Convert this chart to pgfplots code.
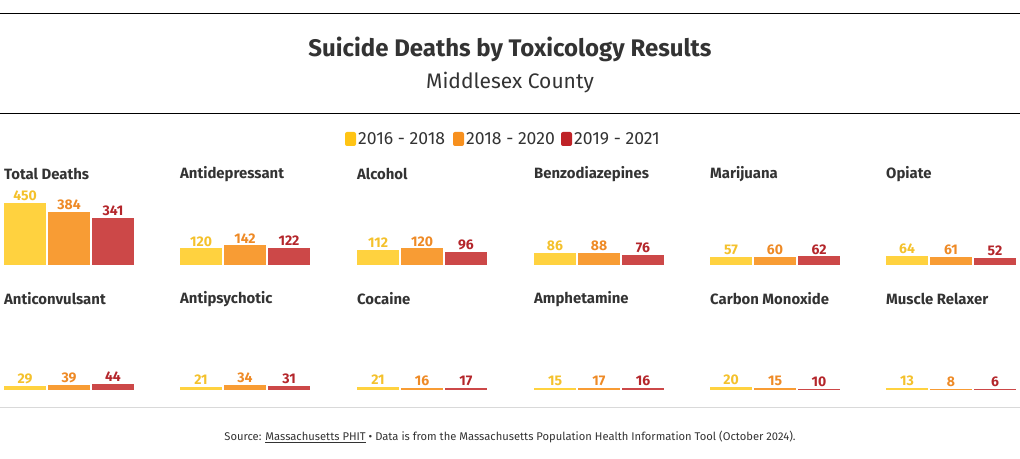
\documentclass[border=0pt]{standalone}
\usepackage{fontspec}
\setmainfont{Fira Sans}
\usepackage{pgfplots}
\pgfplotsset{compat=1.18}
\definecolor{cy}{HTML}{FFD23F}
\definecolor{co}{HTML}{F89C34}
\definecolor{cr}{HTML}{CC4848}
\definecolor{ty}{HTML}{F4C12C}
\definecolor{to}{HTML}{EE8A26}
\definecolor{tr}{HTML}{B4262B}
\definecolor{ly}{HTML}{FFC414}
\definecolor{lo}{HTML}{F7901E}
\definecolor{lr}{HTML}{BF2227}
\definecolor{tx}{HTML}{333333}
\pgfplotsset{
  panel/.style={anchor=origin, scale only axis, width=132pt, height=62pt,
    xmin=-0.5, xmax=2.5, ymin=0, ymax=450, hide axis, clip=false,
    /pgf/number format/assume math mode=true,
    every node near coord/.append style={font=\fontsize{14}{15}\selectfont\bfseries, inner sep=2pt}},
  bstyle/.style={ybar, bar width=42pt, bar shift=0pt, draw=none, fill=#1, nodes near coords}
}
\newcommand{\panel}[6]{%
\begin{axis}[panel, at={(#1pt+21pt,#2pt)}]
\addplot[bstyle=cy, every node near coord/.append style={text=ty}] coordinates {(0,#4)};
\addplot[bstyle=co, every node near coord/.append style={text=to}] coordinates {(1,#5)};
\addplot[bstyle=cr, every node near coord/.append style={text=tr}] coordinates {(2,#6)};
\end{axis}
\node[anchor=west, inner sep=0pt, text=tx, font=\fontsize{14.9}{17}\selectfont\bfseries] at (#1pt,#2pt+91pt) {#3};
}
\begin{document}
\begin{tikzpicture}[x=1pt,y=1pt]
\path[use as bounding box] (0,0) rectangle (1020,458);
\draw[black, line width=1pt] (0,444) -- (1020,444);
\draw[black, line width=1pt] (0,344) -- (1020,344);
\draw[black!15, line width=0.8pt] (0,51) -- (1020,51);
\node[text=tx, font=\fontsize{24}{26}\selectfont\bfseries] at (510,409) {Suicide Deaths by Toxicology Results};
\node[text=tx, font=\fontsize{21}{24}\selectfont] at (510,375) {Middlesex County};
% legend
\fill[ly, rounded corners=2pt] (345,312) rectangle (356,326);
\node[anchor=west, inner sep=0pt, text=tx, font=\fontsize{17.6}{19}\selectfont] at (358,319) {2016 - 2018};
\fill[lo, rounded corners=2pt] (453,312) rectangle (464,326);
\node[anchor=west, inner sep=0pt, text=tx, font=\fontsize{17.6}{19}\selectfont] at (466,319) {2018 - 2020};
\fill[lr, rounded corners=2pt] (561,312) rectangle (572,326);
\node[anchor=west, inner sep=0pt, text=tx, font=\fontsize{17.6}{19}\selectfont] at (574,319) {2019 - 2021};
% panels row 1
\panel{4}{193}{Total Deaths}{450}{384}{341}
\panel{180}{193}{Antidepressant}{120}{142}{122}
\panel{357}{193}{Alcohol}{112}{120}{96}
\panel{534}{193}{Benzodiazepines}{86}{88}{76}
\panel{710}{193}{Marijuana}{57}{60}{62}
\panel{886}{193}{Opiate}{64}{61}{52}
% row 2
\panel{4}{68}{Anticonvulsant}{29}{39}{44}
\panel{180}{68}{Antipsychotic}{21}{34}{31}
\panel{357}{68}{Cocaine}{21}{16}{17}
\panel{534}{68}{Amphetamine}{15}{17}{16}
\panel{710}{68}{Carbon Monoxide}{20}{15}{10}
\panel{886}{68}{Muscle Relaxer}{13}{8}{6}
\node[text=tx, font=\fontsize{11.2}{13}\selectfont] at (510,21) {Source: \underline{Massachusetts PHIT} • Data is from the Massachusetts Population Health Information Tool (October 2024).};
\end{tikzpicture}
\end{document}
